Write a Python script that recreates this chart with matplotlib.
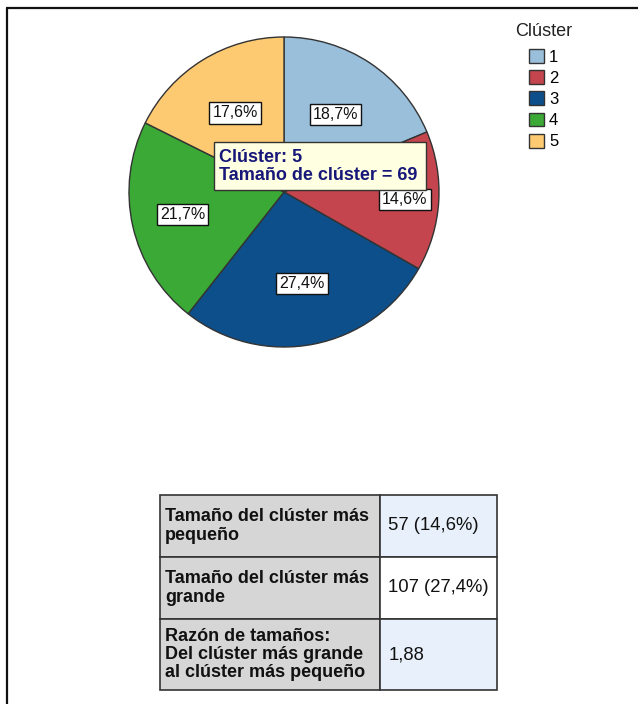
import numpy as np
import matplotlib
matplotlib.use('Agg')
import matplotlib.pyplot as plt
from matplotlib.patches import Rectangle
from matplotlib.lines import Line2D

# data
clusters = ['1', '2', '3', '4', '5']
sizes = [73, 57, 107, 85, 69]
colors = ['#99bfdb', '#c4454e', '#0d4f8a', '#3aa935', '#fdca72']
hover_cluster = '5'
row_labels = ['Tamaño del clúster más\npequeño',
              'Tamaño del clúster más\ngrande',
              'Razón de tamaños:\nDel clúster más grande\nal clúster más pequeño']

plt.rcParams['font.family'] = ['Liberation Sans', 'DejaVu Sans']

W, H = 638, 704
fig = plt.figure(figsize=(W / 100, H / 100), dpi=100)
fig.patch.set_facecolor('white')


def px(x, y, w, h):
    # pixel box (top-left origin) -> figure fraction
    return [x / W, 1 - (y + h) / H, w / W, h / H]


# frame lines top / left
fig.add_artist(Line2D([6 / W, 1], [1 - 7.5 / H, 1 - 7.5 / H], color='#111111',
                      lw=1.6, solid_capstyle='butt'))
fig.add_artist(Line2D([7 / W, 7 / W], [0, 1 - 7.5 / H], color='#111111',
                      lw=1.6, solid_capstyle='butt'))

# pie
cx, cy, r = 284, 192, 155
ax = fig.add_axes(px(cx - r, cy - r, 2 * r, 2 * r))
total = sum(sizes)
wedges, _ = ax.pie(sizes, colors=colors, startangle=90, counterclock=False,
                   wedgeprops=dict(edgecolor='#333333', linewidth=1.0))
for w in wedges:
    w.set_clip_on(False)
ax.set_xlim(-1, 1)
ax.set_ylim(-1, 1)
ax.set_aspect('equal')
ax.axis('off')

label_dist = [0.6, 0.78, 0.6, 0.67, 0.6]
for w, s, d in zip(wedges, sizes, label_dist):
    ang = np.deg2rad((w.theta1 + w.theta2) / 2)
    pct = f"{100 * s / total:.1f}%".replace('.', ',')
    ax.text(d * np.cos(ang), d * np.sin(ang), pct, ha='center', va='center',
            fontsize=11.5, color='#111111',
            bbox=dict(boxstyle='square,pad=0.2', fc='white', ec='#111111', lw=1.0))

# tooltip
idx = clusters.index(hover_cluster)
fig.add_artist(Rectangle((214 / W, 1 - 190 / H), 212 / W, 48 / H, transform=fig.transFigure,
                         fc='#ffffe1', ec='#333333', lw=1.0))
fig.text(219 / W, 1 - 166.5 / H, f"Clúster: {hover_cluster}\nTamaño de clúster = {sizes[idx]}",
         ha='left', va='center', color='#17177a', fontweight='bold', fontsize=13,
         linespacing=1.12)

# legend (title drawn separately to get the gap right)
fig.text(544 / W, 1 - 31 / H, 'Clúster', ha='center', va='center', fontsize=13,
         color='#222222')
fig.legend(wedges, clusters, loc='upper left',
           bbox_to_anchor=(529 / W, 1 - 49 / H), frameon=False, fontsize=12,
           handlelength=0.9, handleheight=0.9,
           handletextpad=0.3, labelspacing=0.33, borderpad=0, borderaxespad=0)

# summary table
smallest = min(sizes)
largest = max(sizes)
values = [f"{smallest} ({100 * smallest / total:.1f}%)".replace('.', ','),
          f"{largest} ({100 * largest / total:.1f}%)".replace('.', ','),
          f"{largest / smallest:.2f}".replace('.', ',')]

tax = fig.add_axes(px(160, 495, 337, 195))
tax.axis('off')
tbl = tax.table(cellText=[[a, b] for a, b in zip(row_labels, values)],
                cellLoc='left', bbox=[0, 0, 1, 1])
tbl.auto_set_font_size(False)
tbl.set_fontsize(13)
row_h = [62, 62, 71]
col_w = [220, 117]
right_bg = ['#e8f1fb', '#ffffff', '#e8f1fb']
for (i, j), cell in tbl.get_celld().items():
    cell.set_height(row_h[i])
    cell.set_width(col_w[j])
    cell.set_edgecolor('#333333')
    cell.set_linewidth(1.2)
    t = cell.get_text()
    t.set_linespacing(1.08)
    t.set_color('#111111')
    if j == 0:
        cell.set_facecolor('#d6d6d6')
        cell.PAD = 0.023
        t.set_fontweight('bold')
    else:
        cell.set_facecolor(right_bg[i])
        cell.PAD = 0.07
        t.set_fontsize(13.3)

fig.savefig('out.png', dpi=100)
